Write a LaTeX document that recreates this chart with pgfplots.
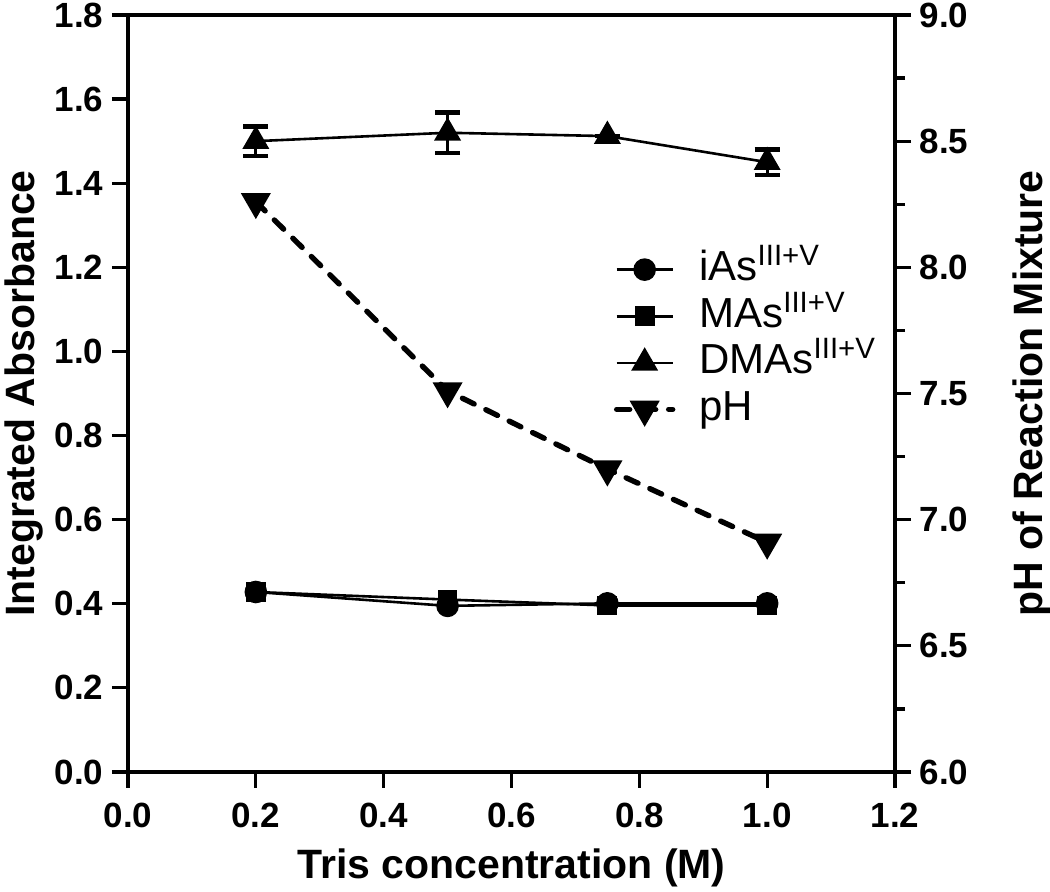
\documentclass[border=0pt]{standalone}
\usepackage{pgfplots}
\pgfplotsset{compat=1.18}
\usepackage{fontspec}
\setmainfont{Liberation Sans}
\begin{document}
\begin{tikzpicture}
\pgfplotsset{
  common/.style={
    width=383.5pt, height=378.5pt,
    scale only axis,
    xmin=0, xmax=1.2,
    line width=2pt,
    axis line style={line width=2pt},
    tick style={line width=1.6pt, black},
    major tick length=8pt,
    minor tick length=5pt,
    tick align=outside,
    ticklabel style={font=\fontsize{17.5}{20}\selectfont\bfseries},
    label style={font=\fontsize{20.5}{24}\selectfont\bfseries},
    /pgf/number format/assume math mode=true,
    /pgf/number format/fixed,
    /pgf/number format/fixed zerofill,
    /pgf/number format/precision=1,
  },
  ptline/.style={black, line width=1.3pt},
  phline/.style={black, line width=2.7pt, line cap=round, dash pattern=on 6.5pt off 6.5pt,
    mark=triangle*, mark size=6pt, mark options={rotate=180, solid}},
}
\begin{axis}[
  common,
  name=main,
  ymin=0, ymax=1.8,
  xtick={0,0.2,...,1.2},
  ytick={0,0.2,...,1.8},
  xtick pos=bottom, ytick pos=left,
  xticklabel style={yshift=-3pt},
  xlabel={Tris concentration (M)},
  ylabel={Integrated Absorbance},
  xlabel style={at={(axis description cs:0.5,-0.127)}, anchor=center},
  ylabel style={at={(axis description cs:-0.136,0.5)}, anchor=center, rotate=0},
  legend style={draw=none, fill=none, at={(0.631,0.694)}, anchor=north west,
    inner sep=0pt, row sep=2.3pt,
    font=\fontsize{21}{24}\selectfont,
    nodes={inner sep=1pt, text height=15pt, text depth=4pt},
    /tikz/every odd column/.append style={column sep=11pt}},
  legend cell align=left,
  legend image code/.code={
    \draw[mark repeat=2, mark phase=2, #1] plot coordinates {(0pt,0pt) (14pt,0pt) (28pt,0pt)};
  },
]
% iAs
\addplot[ptline, mark=*, mark size=5pt] coordinates {
  (0.2,0.428) (0.5,0.395) (0.75,0.401) (1.0,0.401)
};
\addlegendentry{iAs\textsuperscript{III+V}}
% MAs
\addplot[ptline, mark=square*, mark size=4.3pt] coordinates {
  (0.2,0.428) (0.5,0.410) (0.75,0.396) (1.0,0.396)
};
\addlegendentry{MAs\textsuperscript{III+V}}
% DMAs
\addplot[ptline, mark=triangle*, mark size=6.5pt,
  error bars/.cd, y dir=both, y explicit,
  error mark options={rotate=90, mark size=6.25pt, line width=2.2pt},
  error bar style={line width=1.6pt}] coordinates {
  (0.2,1.500) +- (0,0.035)
  (0.5,1.520) +- (0,0.048)
  (0.75,1.512) +- (0,0.000)
  (1.0,1.450) +- (0,0.030)
};
\addlegendentry{DMAs\textsuperscript{III+V}}
\addlegendimage{phline}
\addlegendentry{pH}
\end{axis}
\begin{axis}[
  common,
  ymin=6, ymax=9,
  axis x line=none,
  axis y line*=right,
  ytick={6,6.5,...,9},
  minor ytick={6.25,6.75,...,8.75},
  ylabel={pH of Reaction Mixture},
  ylabel style={at={(axis description cs:1.179,0.5)}, anchor=center},
]
\addplot[phline] coordinates {
  (0.2,8.26) (0.5,7.51) (0.75,7.20) (1.0,6.91)
};
\end{axis}
\pgfresetboundingbox
\path[use as bounding box] ([xshift=-64pt,yshift=-60pt]main.south west)
  rectangle ([xshift=77.5pt,yshift=7.5pt]main.north east);
\end{tikzpicture}
\end{document}
